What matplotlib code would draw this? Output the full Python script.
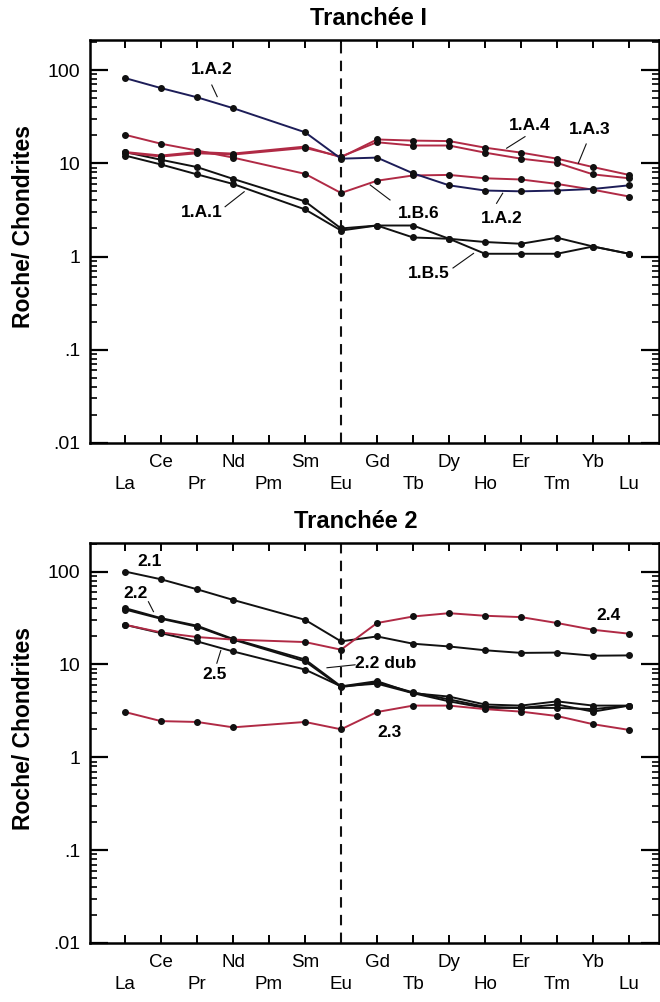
import numpy as np
import matplotlib
matplotlib.use("Agg")
import matplotlib.pyplot as plt
from matplotlib.ticker import FixedLocator, FixedFormatter, LogLocator, NullFormatter

plt.rcParams['font.family'] = ['Liberation Sans', 'DejaVu Sans']

# REE order, Pm not analysed
elements = ['La', 'Ce', 'Pr', 'Nd', 'Pm', 'Sm', 'Eu', 'Gd', 'Tb', 'Dy', 'Ho', 'Er', 'Tm', 'Yb', 'Lu']
measured = ['La', 'Ce', 'Pr', 'Nd', 'Sm', 'Eu', 'Gd', 'Tb', 'Dy', 'Ho', 'Er', 'Tm', 'Yb', 'Lu']

# Tranchee I (chondrite normalised)
t1_1A2 = [82, 64, 51, 39, 21.5, 11.2, 11.5, 7.8, 5.8, 5.1, 5.0, 5.1, 5.3, 5.8]
t1_1A4 = [13.2, 12.1, 13.2, 12.7, 15.1, 11.6, 18.0, 17.5, 17.3, 14.7, 13.0, 11.2, 9.1, 7.5]
t1_1A3 = [13.0, 11.8, 12.8, 12.4, 14.6, 11.8, 16.8, 15.5, 15.5, 13.0, 11.2, 10.1, 7.6, 6.9]
t1_1B6 = [20.2, 16.2, 13.7, 11.5, 7.7, 4.8, 6.5, 7.4, 7.5, 6.9, 6.7, 6.0, 5.2, 4.4]
t1_1B5 = [13.2, 10.9, 9.1, 6.8, 3.9, 2.0, 2.15, 2.15, 1.55, 1.07, 1.07, 1.07, 1.28, 1.07]
t1_1A1 = [12.1, 9.7, 7.6, 6.0, 3.2, 1.9, 2.15, 1.6, 1.55, 1.43, 1.37, 1.59, 1.28, 1.07]

# Tranchee 2
t2_21 = [100, 82.5, 64.4, 49.5, 30.2, 17.7, 20.0, 16.7, 15.6, 14.2, 13.3, 13.4, 12.4, 12.5]
t2_22 = [40.4, 31.5, 26.1, 18.8, 11.3, 5.8, 6.6, 4.9, 4.5, 3.7, 3.6, 4.0, 3.6, 3.6]
t2_22dub = [39, 31, 25.5, 18.5, 10.8, 5.7, 6.4, 5.0, 4.2, 3.5, 3.4, 3.4, 3.3, 3.6]
t2_23 = [3.07, 2.45, 2.4, 2.1, 2.4, 2.0, 3.07, 3.6, 3.6, 3.3, 3.1, 2.78, 2.27, 1.97]
t2_24 = [26.7, 22.1, 19.7, 18.5, 17.4, 14.4, 27.9, 32.8, 35.6, 33.4, 32.3, 27.9, 23.6, 21.4]
t2_25 = [26.7, 21.7, 17.7, 13.8, 8.8, 5.8, 6.2, 4.9, 4.0, 3.4, 3.4, 3.7, 3.1, 3.6]

ytick_vals = [0.01, 0.1, 1, 10, 100]
ytick_text = ['.01', '.1', '1', '10', '100']

black = '#111111'
red = '#b02a45'
navy = '#1d1d58'

xpos = [elements.index(e) for e in measured]
eu = elements.index('Eu')


def draw(ax, y, color):
    ax.plot(xpos, y, color=color, lw=1.4, marker='o', ms=4,
            mfc=black, mec=black, zorder=3)


def label(ax, txt, xy, line=None, ha='center'):
    ax.text(xy[0], xy[1], txt, fontsize=12.5, fontweight='bold', ha=ha, va='center', zorder=5)
    if line is not None:
        ax.plot(line[0], line[1], color=black, lw=0.8, zorder=4)


def setup(ax, top, title, tx):
    ax.set_yscale('log')
    ax.set_xlim(-0.972, 14.83)
    ax.set_ylim(0.01, top)
    ax.axvline(eu, color=black, ls=(0, (5, 3.5)), lw=1.5, zorder=2)
    ax.set_xticks(range(len(elements)))
    ax.set_xticklabels([])
    ax.yaxis.set_major_locator(FixedLocator(ytick_vals))
    ax.yaxis.set_major_formatter(FixedFormatter(ytick_text))
    ax.yaxis.set_minor_locator(LogLocator(base=10, subs=np.arange(2, 10)))
    ax.yaxis.set_minor_formatter(NullFormatter())
    ax.tick_params(axis='y', which='major', direction='in', length=13, width=1.6,
                   left=True, right=True, labelsize=14, pad=7)
    ax.tick_params(axis='y', which='minor', direction='in', length=5, width=1.2,
                   left=True, right=True)
    ax.tick_params(axis='x', direction='in', length=6, width=1.4, top=True, bottom=True)
    for s in ax.spines.values():
        s.set_linewidth(1.8)
    for i, el in enumerate(elements):
        off = -13.7 if i % 2 == 1 else -30
        ax.annotate(el, xy=(i, 0), xycoords=('data', 'axes fraction'),
                    xytext=(0, off), textcoords='offset points',
                    ha='center', va='center', fontsize=13.5)
    ax.text(tx, 1.054, title, transform=ax.transAxes, ha='center', va='center',
            fontsize=17, fontweight='bold')


fig = plt.figure(figsize=(6.6, 10.02), dpi=100)
ax1 = fig.add_axes([0.1364, 0.5579, 0.862, 0.4022])
ax2 = fig.add_axes([0.1364, 0.0589, 0.862, 0.3992])

setup(ax1, 210, 'Tranchée I', 0.490)
draw(ax1, t1_1B5, black)
draw(ax1, t1_1A1, black)
draw(ax1, t1_1B6, red)
draw(ax1, t1_1A3, red)
draw(ax1, t1_1A4, red)
draw(ax1, t1_1A2, navy)

label(ax1, '1.A.2', (2.42, 102), ([2.41, 2.56], [69, 51.8]))
label(ax1, '1.A.1', (2.13, 2.95), ([2.78, 3.31], [3.42, 4.95]))
label(ax1, '1.A.4', (11.23, 25.7), ([11.11, 10.6], [19.3, 14.5]))
label(ax1, '1.A.3', (12.92, 23.1), ([12.81, 12.59], [16.1, 10.0]))
label(ax1, '1.B.6', (8.15, 2.91), ([7.36, 6.81], [4.04, 5.85]))
label(ax1, '1.A.2', (10.46, 2.57), ([10.32, 10.49], [3.72, 4.77]))
label(ax1, '1.B.5', (8.43, 0.66), ([9.11, 9.68], [0.753, 1.08]))

setup(ax2, 203, 'Tranchée 2', 0.467)
draw(ax2, t2_25, black)
draw(ax2, t2_22dub, black)
draw(ax2, t2_22, black)
draw(ax2, t2_21, black)
draw(ax2, t2_23, red)
draw(ax2, t2_24, red)

label(ax2, '2.1', (0.69, 127))
label(ax2, '2.2', (0.28, 58.4), ([0.65, 0.79], [47.3, 37.0]))
label(ax2, '2.5', (2.5, 7.7), ([2.55, 2.66], [10.3, 14.1]))
label(ax2, '2.2 dub', (6.39, 10.3), ([5.61, 6.39], [9.2, 9.9]), ha='left')
label(ax2, '2.4', (13.43, 34))
label(ax2, '2.3', (7.34, 1.85))

fig.text(24 / 660, 1 - 227 / 1002, 'Roche/ Chondrites', rotation=90, ha='center', va='center',
         fontsize=16.5, fontweight='bold')
fig.text(24 / 660, 1 - 728 / 1002, 'Roche/ Chondrites', rotation=90, ha='center', va='center',
         fontsize=16.5, fontweight='bold')

fig.savefig('out.png', dpi=100)
